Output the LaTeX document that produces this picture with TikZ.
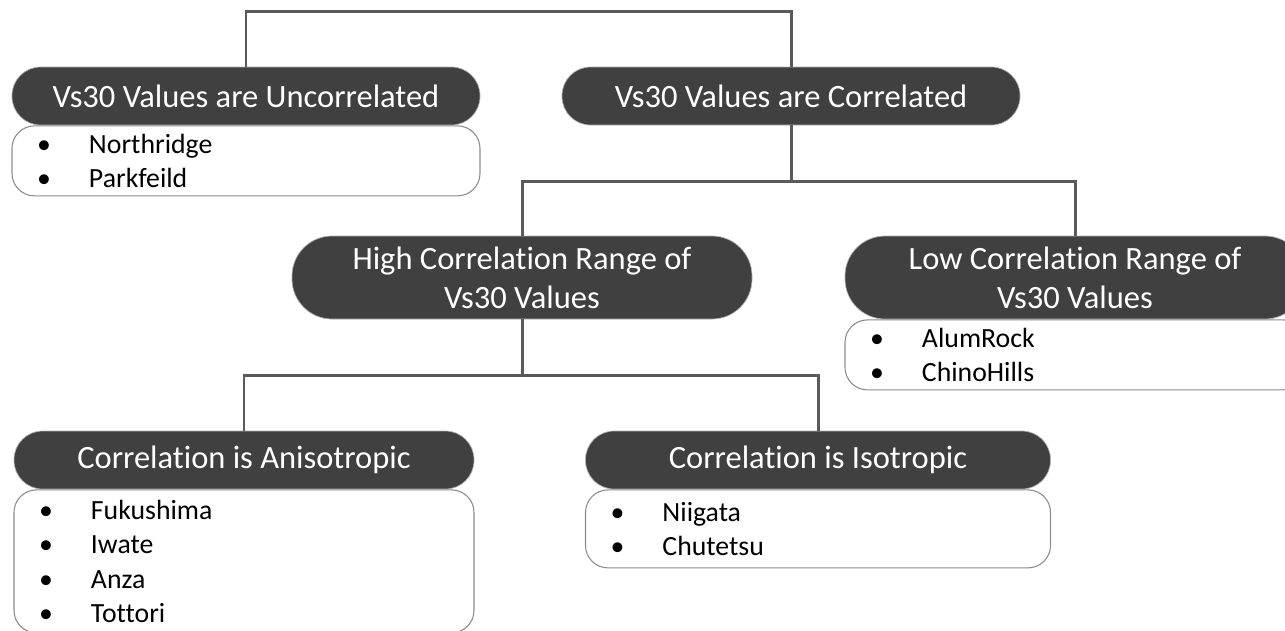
\documentclass[tikz,border=0pt]{standalone}
\usepackage{fontspec}
\setmainfont{Carlito}[Ligatures=NoCommon]
\usetikzlibrary{positioning,calc}
\definecolor{headfill}{HTML}{404040}
\definecolor{linkgray}{HTML}{5A5A5A}
\definecolor{listline}{HTML}{8C8C8C}
\newcommand\bul{\makebox[1.04cm][l]{\textbullet}}

\begin{document}
\begin{tikzpicture}[
  head/.style={fill=headfill,draw=white!70!black,line width=.4pt,text=white,rounded corners=.57cm,minimum width=9.2cm,minimum height=1.16cm,align=center,inner sep=0pt,font=\fontsize{18.5}{22}\selectfont},
  headtwo/.style={head,rounded corners=.8cm,minimum height=1.66cm},
  list/.style={draw=listline,line width=.6pt,fill=white,rounded corners=.45cm,text width=8.2cm,inner xsep=.5cm,align=left,font=\fontsize{15.8}{19.6}\selectfont},
  link/.style={draw=linkgray,line width=1.7pt}
]
\clip (0,0) rectangle (25.7,-12.6);

% first level: uncorrelated vs correlated
\node[head,minimum width=9.36cm] (uncor) at (4.92,-1.92) {Vs30 Values are Uncorrelated};
\node[list,text width=8.36cm,below=0pt of uncor,minimum height=1.4cm] (uncorlist) {\bul Northridge\\\bul Parkfeild};
\node[head,minimum width=9.16cm] (cor) at (15.82,-1.92) {Vs30 Values are Correlated};
\draw[link] (uncor.north) -- ++(0,1.1) -| (cor.north);

% second level: range of correlation
\node[headtwo] (high) at (10.44,-5.55) {High Correlation Range of\\Vs30 Values};
\node[headtwo] (low) at (21.5,-5.55) {Low Correlation Range of\\Vs30 Values};
\node[list,below=0pt of low,minimum height=1.4cm] (lowlist) {\bul AlumRock\\\bul ChinoHills};
\draw[link] (cor.south) -- ++(0,-1.12) coordinate (midbar);
\draw[link] (high.north) |- (midbar) -| (low.north);

% third level: anisotropic vs isotropic
\node[head] (aniso) at (4.88,-9.2) {Correlation is Anisotropic};
\node[list,below=0pt of aniso,minimum height=2.86cm] (anisolist) {\bul Fukushima\\\bul Iwate\\\bul Anza\\\bul Tottori};
\node[head,minimum width=9.3cm] (iso) at (16.36,-9.2) {Correlation is Isotropic};
\node[list,text width=8.3cm,below=0pt of iso,minimum height=1.56cm] (isolist) {\bul Niigata\\\bul Chutetsu};
\draw[link] (high.south) -- ++(0,-1.12) coordinate (lowbar);
\draw[link] (aniso.north) |- (lowbar) -| (iso.north);
\end{tikzpicture}
\end{document}
